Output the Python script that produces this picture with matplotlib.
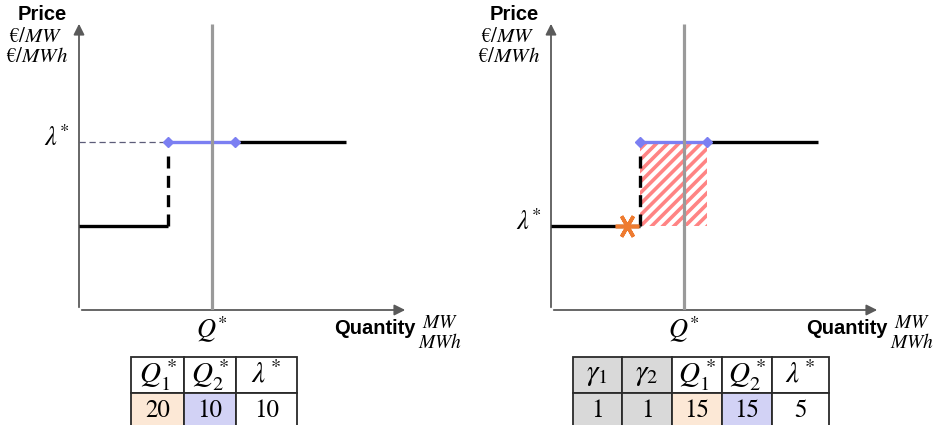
import matplotlib
matplotlib.use('Agg')
import matplotlib.pyplot as plt
from matplotlib.patches import Rectangle

plt.rcParams['mathtext.fontset'] = 'stix'
plt.rcParams['hatch.linewidth'] = 2.6

# market values
q_step = 20          # end of the cheap offer
q_star = 30          # demand
q_offer2_end = 35    # end of the blue offer
q_curve_end = 60
price_low = 5
price_high = 10
q_max = 74
p_max = 17.2
star_q = 17

left_headers = [r'$Q_1^*$', r'$Q_2^*$', r'$\lambda^*$']
left_values = ['20', '10', '10']
right_headers = [r'$\gamma_1$', r'$\gamma_2$', r'$Q_1^*$', r'$Q_2^*$', r'$\lambda^*$']
right_values = ['1', '1', '15', '15', '5']

W, H = 933, 425
fig = plt.figure(figsize=(W / 100, H / 100), dpi=100)

BLUE = '#7b7ff2'
GRAY = '#9a9a9a'
AXC = '#5a5a5a'


def px_axes(x0, y0, w, h):
    # x0, y0 = top-left in image pixels
    return fig.add_axes([x0 / W, 1 - (y0 + h) / H, w / W, h / H])


def label(ax, txt, dx, dy, **kw):
    ax.annotate(txt, xy=(0, 0), xycoords='data', xytext=(dx, dy),
                textcoords='offset pixels', ha=kw.pop('ha', 'center'),
                va=kw.pop('va', 'center'), annotation_clip=False, **kw)


def panel(x_origin, right):
    ax = px_axes(x_origin, 310 - 289, 329, 289)
    ax.set_xlim(0, q_max)
    ax.set_ylim(0, p_max)
    ax.axis('off')

    # axes with arrows
    ax.annotate('', xy=(q_max, 0), xytext=(0, 0),
                arrowprops=dict(arrowstyle='-|>', color=AXC, lw=1.3, mutation_scale=16),
                annotation_clip=False)
    ax.annotate('', xy=(0, p_max), xytext=(0, 0),
                arrowprops=dict(arrowstyle='-|>', color=AXC, lw=1.3, mutation_scale=16),
                annotation_clip=False)

    # demand line
    ax.plot([q_star, q_star], [0, 17.0], color=GRAY, lw=2.3, zorder=6,
            solid_capstyle='butt')

    if right:
        ax.add_patch(Rectangle((q_step, price_low), q_offer2_end - q_step,
                               price_high - price_low, facecolor='white',
                               edgecolor='#ff8484', hatch='///', lw=0, zorder=2))
    else:
        ax.plot([0, q_step], [price_high, price_high], color='#5b5b78', lw=0.9,
                ls=(0, (5, 3)), zorder=3)

    # supply curve
    ax.plot([0, q_step], [price_low, price_low], color='black', lw=2.4, zorder=4,
            solid_capstyle='butt')
    ax.plot([q_step, q_step], [price_low, price_high - 0.4], color='black', lw=2.4,
            ls=(0, (3.6, 2.2)), zorder=4)
    ax.plot([q_offer2_end, q_curve_end], [price_high, price_high], color='black',
            lw=2.4, zorder=4, solid_capstyle='butt')
    ax.plot([q_step, q_offer2_end], [price_high, price_high], color=BLUE, lw=2.4,
            marker='D', ms=5.5, zorder=5)

    if right:
        ax.plot([star_q], [price_low], marker=(6, 2, 90), ms=17, mew=2.6,
                color='#ee7b30', zorder=7, ls='none')

    # labels
    lam_y = price_low if right else price_high
    ax.annotate(r'$\lambda^{\!*}$', xy=(0, lam_y), xytext=(-22, 3),
                textcoords='offset pixels', ha='center', va='center', fontsize=19)
    ax.annotate(r'$Q^{*}$', xy=(q_star, 0), xytext=(0, -20),
                textcoords='offset pixels', ha='center', va='center', fontsize=19)
    label(ax, 'Price', -37, 296, fontsize=14.5, fontweight='bold', family='Liberation Sans')
    label(ax, r'$€/MW$', -44, 274, fontsize=15)
    label(ax, r'$€/MWh$', -42, 254, fontsize=15)
    label(ax, 'Quantity', 296, -19, fontsize=14.5, fontweight='bold', family='Liberation Sans')
    label(ax, r'$MW$', 361, -12, fontsize=14)
    label(ax, r'$MWh$', 361, -32, fontsize=14)
    return ax


def table(x0, col_w, headers, values, colors):
    total = sum(col_w)
    tax = px_axes(x0, 357, total, 72)
    tax.axis('off')
    tb = tax.table(cellText=[headers, values],
                   cellColours=[['#d9d9d9' if c == '#d9d9d9' else 'white' for c in colors],
                                colors],
                   colWidths=[w / total for w in col_w], cellLoc='center',
                   bbox=[0, 0, 1, 1])
    tb.auto_set_font_size(False)
    for (r, c), cell in tb.get_celld().items():
        cell.set_edgecolor('#2a2a2a')
        cell.set_linewidth(1.3)
        cell.get_text().set_fontsize(21 if r == 0 else 18)
        cell.get_text().set_family('STIXGeneral')
    return tb


panel(79, False)
panel(551, True)

table(131, [53, 52, 61], left_headers, left_values,
      ['#fce8d6', '#d2d2f5', 'white'])
table(573, [49, 50, 50, 50, 57], right_headers, right_values,
      ['#d9d9d9', '#d9d9d9', '#fce8d6', '#d2d2f5', 'white'])

fig.savefig('out.png', dpi=100)
